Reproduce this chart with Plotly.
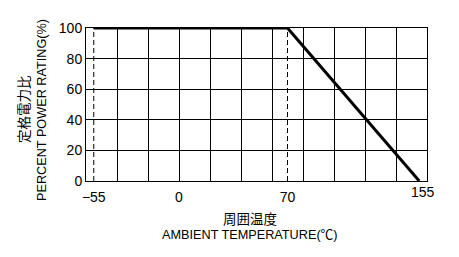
import plotly.graph_objects as go

# Derating curve data
curve_temp = [-55, 70, 155]
curve_power = [100, 100, 0]
dash_temps = [-55, 70]
x_tick_vals = [-55, 0, 70]
x_tick_text = ["−55", "0", "70"]
end_label_temp = 155
y_ticks = [0, 20, 40, 60, 80, 100]

FONT = "Liberation Sans, Arial, Noto Sans CJK JP, sans-serif"

fig = go.Figure()

for t in dash_temps:
    fig.add_trace(go.Scatter(x=[t, t], y=[0, 100], mode="lines",
                             line=dict(color="black", width=1, dash="5px,3px"),
                             showlegend=False, hoverinfo="skip"))

fig.add_trace(go.Scatter(x=curve_temp, y=curve_power, mode="lines",
                         line=dict(color="black", width=3),
                         showlegend=False))

# dummy trace on the label axis
fig.add_trace(go.Scatter(x=[-60, 160], y=[None, None], xaxis="x2", showlegend=False, hoverinfo="skip"))

fig.update_layout(
    width=459, height=257,
    margin=dict(l=86, r=32, t=27.5, b=75.5),
    paper_bgcolor="white", plot_bgcolor="white",
    font=dict(family=FONT, color="black", size=14),
    xaxis=dict(range=[-60, 160], tickmode="linear", tick0=-60, dtick=20,
               showgrid=True, gridcolor="black", gridwidth=1,
               showticklabels=False, ticks="", zeroline=False,
               showline=True, mirror=True, linecolor="black", linewidth=1),
    xaxis2=dict(range=[-60, 160], overlaying="x", side="bottom",
                tickvals=x_tick_vals, ticktext=x_tick_text,
                showgrid=False, zeroline=False, ticks="", ticklen=0,
                ticklabelstandoff=6,
                tickfont=dict(size=14, family=FONT, color="black")),
    yaxis=dict(range=[0, 100], tickvals=y_ticks,
               showgrid=True, gridcolor="black", gridwidth=1,
               zeroline=False, ticks="",
               showline=True, mirror=True, linecolor="black", linewidth=1,
               tickfont=dict(size=14, family=FONT, color="black")),
    annotations=[
        dict(x=end_label_temp, y=0, xref="x", yref="y", text=str(end_label_temp),
             showarrow=False, yanchor="middle", yshift=-10.5, xshift=4,
             font=dict(size=14, family=FONT, color="black")),
        dict(x=0.481, y=-0.25, xref="paper", yref="paper", text="周囲温度",
             showarrow=False, yanchor="middle", xanchor="center",
             font=dict(size=13.5, family=FONT, color="black")),
        dict(x=0.481, y=-0.354, xref="paper", yref="paper", text="AMBIENT TEMPERATURE(℃)",
             showarrow=False, yanchor="middle", xanchor="center",
             font=dict(size=12.7, family=FONT, color="black")),
        dict(x=-0.179, y=0.471, xref="paper", yref="paper", text="定格電力比",
             showarrow=False, textangle=-90, yanchor="middle", xanchor="center",
             font=dict(size=13.5, family=FONT, color="black")),
        dict(x=-0.129, y=0.464, xref="paper", yref="paper", text="PERCENT POWER RATING(%)",
             showarrow=False, textangle=-90, yanchor="middle", xanchor="center",
             font=dict(size=12.7, family=FONT, color="black")),
    ],
)

fig.write_html("out.html")
